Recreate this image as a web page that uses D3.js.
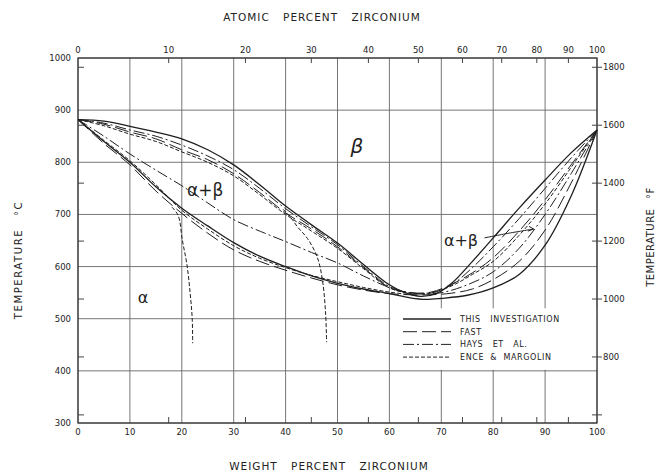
<!DOCTYPE html>
<html>
<head>
<meta charset="utf-8">
<script src="https://cdn.jsdelivr.net/npm/d3@7.9.0/dist/d3.min.js"></script>
<style>
  body { margin: 0; background: #fff; }
  svg text { font-family: "DejaVu Sans", sans-serif; fill: #222; }
</style>
</head>
<body>
<svg id="chart" width="658" height="475"></svg>
<script>
// axis values
const wtTicks = [0, 10, 20, 30, 40, 50, 60, 70, 80, 90, 100];
const atTicks = [0, 10, 20, 30, 40, 50, 60, 70, 80, 90, 100];
const tempTicksC = [300, 400, 500, 600, 700, 800, 900, 1000];
const tempTicksF = [600, 800, 1000, 1200, 1400, 1600, 1800];

// curves as [weight % Zr, temperature C]
const thisUpper = [[0, 882], [5, 879], [10, 869], [15, 858], [20, 845], [25, 824], [30, 795], [35, 757],
  [40, 716], [45, 680], [50, 645], [55, 604], [60, 565], [63, 550], [66, 543], [69, 548], [72, 568],
  [76, 610], [80, 655], [85, 712], [90, 766], [95, 818], [100, 862]];
const thisLower = [[0, 882], [5, 840], [10, 800], [15, 753], [20, 712], [25, 678], [30, 646], [35, 620],
  [40, 600], [45, 582], [50, 568], [55, 557], [60, 548], [64, 540], [67, 537], [70, 539], [75, 545],
  [80, 559], [85, 585], [90, 641], [95, 735], [100, 862]];
const fastUpper = [[0, 882], [5, 873], [10, 858], [15, 845], [20, 824], [25, 805], [30, 778], [35, 742],
  [40, 703], [45, 672], [50, 638], [55, 598], [60, 560], [64, 550], [68, 551], [72, 566], [76, 588],
  [80, 617], [85, 668], [90, 728], [95, 795], [100, 862]];
const fastLower = [[0, 882], [5, 836], [10, 795], [15, 745], [20, 702], [25, 664], [30, 632], [35, 610],
  [40, 593], [45, 578], [50, 565], [55, 555], [60, 548], [64, 546], [68, 546], [72, 549], [76, 557],
  [80, 575], [85, 610], [90, 670], [95, 760], [100, 862]];
const haysUpper = [[0, 882], [5, 875], [10, 862], [15, 850], [20, 833], [25, 812], [30, 786], [35, 750],
  [40, 711], [45, 676], [50, 642], [55, 600], [60, 562], [64, 550], [68, 549], [72, 565], [76, 598],
  [80, 638], [85, 692], [90, 750], [95, 808], [100, 862]];
const haysLower = [[0, 882], [5, 850], [10, 816], [15, 785], [20, 755], [25, 722], [30, 690], [36, 664],
  [40, 648], [45, 627], [50, 607], [55, 582], [60, 560], [65, 548], [70, 550], [75, 565], [80, 590],
  [85, 635], [90, 700], [95, 778], [100, 862]];
const enceUpper = [[0, 882], [5, 870], [10, 854], [15, 840], [20, 820], [25, 800], [30, 774], [35, 738],
  [40, 700], [45, 668], [50, 635], [55, 596], [60, 559], [64, 549], [68, 550], [72, 563], [76, 585],
  [80, 610], [85, 660], [90, 720], [95, 790], [100, 862]];
const enceLower = [[0, 882], [5, 842], [10, 803], [15, 757], [20, 708], [25, 672], [30, 640], [35, 616],
  [40, 598], [45, 583], [50, 571], [55, 560], [60, 551], [65, 545]];
const enceBranch1 = [[18.1, 714], [19.3, 698], [20.1, 651], [21, 603], [21.6, 550], [22, 501], [22.1, 453]];
const enceBranch2 = [[39.5, 710], [41, 694], [42.3, 676], [44.2, 654], [46.1, 618], [47.1, 574], [47.7, 511], [47.9, 455]];

const series = [
  { name: 'THIS   INVESTIGATION', dash: null, curves: [thisUpper, thisLower] },
  { name: 'FAST', dash: '14,5', curves: [fastUpper, fastLower] },
  { name: 'HAYS   ET   AL.', dash: '11,3,2,3', curves: [haysUpper, haysLower] },
  { name: 'ENCE  &  MARGOLIN', dash: '4,2', curves: [enceUpper, enceLower, enceBranch1, enceBranch2] }
];

const svg = d3.select('#chart');
const x = d3.scaleLinear().domain([0, 100]).range([78, 597]);
const y = d3.scaleLinear().domain([300, 1000]).range([423, 58]);

// atomic % Zr -> weight % Zr, deg F -> deg C
const atToWt = (a) => 100 * a * 91.22 / (a * 91.22 + (100 - a) * 47.87);
const fToC = (f) => (f - 32) * 5 / 9;

// grid
svg.append('g').selectAll('line').data(wtTicks).join('line')
  .attr('x1', d => x(d)).attr('x2', d => x(d)).attr('y1', y(1000)).attr('y2', y(300))
  .attr('stroke', '#666').attr('stroke-width', 0.9);
svg.append('g').selectAll('line').data(tempTicksC).join('line')
  .attr('x1', x(0)).attr('x2', x(100)).attr('y1', d => y(d)).attr('y2', d => y(d))
  .attr('stroke', '#666').attr('stroke-width', 0.9);

// legend box hides the grid
svg.append('rect')
  .attr('x', x(60) + 1).attr('y', y(520)).attr('width', x(100) - x(60) - 1.5).attr('height', y(400) - y(520) - 1)
  .attr('fill', '#fff');

// frame
svg.append('rect')
  .attr('x', x(0)).attr('y', y(1000)).attr('width', x(100) - x(0)).attr('height', y(300) - y(1000))
  .attr('fill', 'none').attr('stroke', '#333').attr('stroke-width', 1.2);

// bottom axis (weight %)
svg.append('g').selectAll('text').data(wtTicks).join('text')
  .attr('x', d => x(d)).attr('y', 435).attr('text-anchor', 'middle')
  .attr('font-size', 8.5).text(d => d);

// top axis (atomic %)
svg.append('g').selectAll('text').data(atTicks).join('text')
  .attr('x', d => x(atToWt(d))).attr('y', 53).attr('text-anchor', 'middle')
  .attr('font-size', 8.5).text(d => d);
svg.append('g').selectAll('line').data(atTicks.slice(1, -1)).join('line')
  .attr('x1', d => x(atToWt(d))).attr('x2', d => x(atToWt(d)))
  .attr('y1', y(1000)).attr('y2', y(1000) + 5)
  .attr('stroke', '#444');
svg.append('g').selectAll('line').data(atTicks.slice(1, -1)).join('line')
  .attr('x1', d => x(atToWt(d))).attr('x2', d => x(atToWt(d)))
  .attr('y1', y(300)).attr('y2', y(300) - 6)
  .attr('stroke', '#444');

// left axis (deg C)
svg.append('g').selectAll('text').data(tempTicksC).join('text')
  .attr('x', 71).attr('y', d => y(d) + 3).attr('text-anchor', 'end')
  .attr('font-size', 8.5).text(d => d);
svg.append('g').selectAll('line').data(tempTicksF).join('line')
  .attr('x1', x(0)).attr('x2', x(0) + 6).attr('y1', d => y(fToC(d))).attr('y2', d => y(fToC(d)))
  .attr('stroke', '#444');

// right axis (deg F)
svg.append('g').selectAll('line').data(tempTicksF).join('line')
  .attr('x1', x(100) - 5).attr('x2', x(100) + 5).attr('y1', d => y(fToC(d))).attr('y2', d => y(fToC(d)))
  .attr('stroke', '#444');
svg.append('g').selectAll('text').data(tempTicksF.filter(d => d >= 800)).join('text')
  .attr('x', x(100) + 6).attr('y', d => y(fToC(d)) + 3).attr('text-anchor', 'start')
  .attr('font-size', 8.5).text(d => d);

// titles
svg.append('text').attr('x', 322).attr('y', 21).attr('text-anchor', 'middle')
  .attr('font-size', 10.5).attr('letter-spacing', 1).attr('word-spacing', 9)
  .text('ATOMIC PERCENT ZIRCONIUM');
svg.append('text').attr('x', 329).attr('y', 470).attr('text-anchor', 'middle')
  .attr('font-size', 10.5).attr('letter-spacing', 1).attr('word-spacing', 9)
  .text('WEIGHT PERCENT ZIRCONIUM');
svg.append('text').attr('transform', 'translate(22,260) rotate(-90)').attr('text-anchor', 'middle')
  .attr('font-size', 10).attr('letter-spacing', 1.6).attr('word-spacing', 8)
  .text('TEMPERATURE °C');
svg.append('text').attr('transform', 'translate(654,237) rotate(-90)').attr('text-anchor', 'middle')
  .attr('font-size', 10).attr('letter-spacing', 0.5).attr('word-spacing', 6)
  .text('TEMPERATURE °F');

// curves
const line = d3.line().x(d => x(d[0])).y(d => y(d[1])).curve(d3.curveCatmullRom.alpha(0.5));
series.forEach(s => {
  s.curves.forEach(c => {
    svg.append('path')
      .attr('d', line(c))
      .attr('fill', 'none')
      .attr('stroke', '#1e1e1e')
      .attr('stroke-width', s.dash ? 1 : 1.3)
      .attr('stroke-dasharray', s.dash);
  });
});

// phase labels
const phaseFont = '"DejaVu Serif", serif';
svg.append('text').attr('x', x(52.5)).attr('y', y(818)).attr('font-size', 20)
  .attr('font-style', 'italic').attr('font-family', phaseFont).text('β');
svg.append('text').attr('x', x(21)).attr('y', y(735)).attr('font-size', 17)
  .attr('font-family', phaseFont).text('α+β');
svg.append('text').attr('x', x(11.5)).attr('y', y(531)).attr('font-size', 16)
  .attr('font-family', phaseFont).text('α');
svg.append('text').attr('x', x(70.5)).attr('y', y(640)).attr('font-size', 16)
  .attr('font-family', phaseFont).text('α+β');

// arrow from right label
svg.append('path')
  .attr('d', d3.line().x(d => x(d[0])).y(d => y(d[1])).curve(d3.curveCatmullRom)([[78.3, 655], [83, 664], [87.8, 672]]))
  .attr('fill', 'none').attr('stroke', '#222').attr('stroke-width', 1);
svg.append('path')
  .attr('d', d3.line().x(d => x(d[0])).y(d => y(d[1]))([[86.9, 677], [87.8, 672], [86.7, 668]]))
  .attr('fill', 'none').attr('stroke', '#222').attr('stroke-width', 1);

// legend
const legend = svg.append('g');
series.forEach((s, i) => {
  const ly = 319 + i * 12.7;
  legend.append('line')
    .attr('x1', 403).attr('x2', 451).attr('y1', ly).attr('y2', ly)
    .attr('stroke', '#222').attr('stroke-width', s.dash ? 1 : 1.3)
    .attr('stroke-dasharray', s.dash);
  legend.append('text')
    .attr('x', 460).attr('y', ly + 3).attr('font-size', 8).attr('letter-spacing', 0.6)
    .attr('xml:space', 'preserve').style('white-space', 'pre')
    .text(s.name);
});
</script>
</body>
</html>
